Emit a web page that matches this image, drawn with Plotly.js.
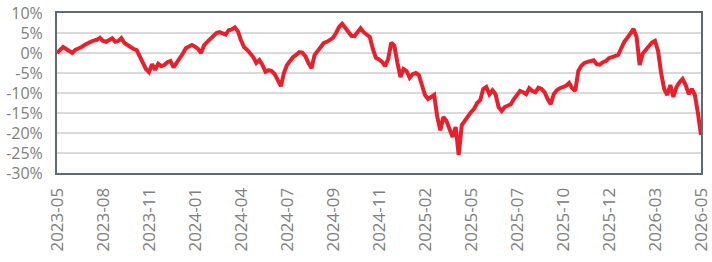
<!DOCTYPE html>
<html>
<head>
<meta charset="utf-8">
<script src="https://cdn.plot.ly/plotly-3.0.1.min.js"></script>
<style>html,body{margin:0;padding:0;background:#fff;}#chart{width:712px;height:262px;}</style>
</head>
<body>
<div id="chart"></div>
<script>
// Cumulative return (%) sampled along the period
const returnsPct = [
  0.0, 0.8, 1.5, 1.0, 0.6, 0.0, 0.8, 1.1, 1.5, 2.0,
  2.5, 2.8, 3.1, 3.3, 3.8, 3.0, 2.8, 3.3, 3.7, 2.8,
  3.0, 3.7, 2.5, 2.0, 1.4, 1.0, 0.7, -1.0, -2.5, -4.0,
  -4.8, -2.8, -4.2, -2.7, -3.3, -3.0, -2.3, -2.0, -3.6, -2.5,
  -1.5, -0.2, 1.2, 1.7, 2.0, 1.6, 1.0, 0.0, 2.0, 2.8,
  3.6, 4.3, 5.0, 5.2, 4.8, 4.6, 5.7, 5.9, 6.4, 5.4,
  3.2, 1.5, 0.8, 0.0, -1.0, -2.5, -1.8, -3.0, -4.7, -4.3,
  -4.5, -5.3, -7.0, -8.3, -5.0, -3.0, -2.0, -1.0, -0.5, 0.2,
  0.1, -0.8, -2.5, -3.8, -0.5, 0.6, 1.8, 2.5, 2.8, 3.3,
  3.8, 5.0, 6.5, 7.3, 6.4, 5.5, 4.3, 4.2, 5.3, 6.2,
  5.2, 4.7, 4.0, 1.0, -1.2, -1.6, -2.2, -3.3, -1.5, 2.6,
  1.8, -2.4, -6.0, -4.0, -4.5, -6.2, -5.3, -5.0, -5.5, -8.0,
  -10.5, -11.5, -11.0, -10.5, -16.0, -19.3, -16.0, -17.0, -19.0, -21.0,
  -18.5, -25.5, -18.0, -16.8, -15.8, -14.8, -14.0, -12.5, -11.8, -9.0,
  -8.5, -10.3, -9.3, -10.3, -13.5, -14.5, -13.5, -13.2, -12.8, -11.5,
  -10.5, -9.5, -9.8, -10.3, -8.8, -9.5, -9.8, -8.7, -9.0, -9.8,
  -11.5, -12.8, -10.3, -9.3, -8.8, -8.5, -8.2, -7.5, -8.8, -9.5,
  -4.5, -3.2, -2.5, -2.2, -2.0, -1.8, -2.8, -2.9, -2.3, -2.0,
  -1.3, -1.0, -0.8, -0.5, 1.2, 2.8, 3.8, 5.0, 6.0, 4.0,
  -3.0, -0.2, 0.8, 1.5, 2.6, 3.0, 0.5, -5.0, -9.0, -10.5,
  -8.0, -11.0, -8.5, -7.3, -6.5, -8.0, -10.3, -9.0, -10.5, -15.0,
  -20.5
];
// Axis labels (evenly spaced along the sampled series)
const tickLabels = ['2023-05','2023-08','2023-11','2024-01','2024-04','2024-07','2024-09','2024-11','2025-02','2025-05','2025-07','2025-10','2025-12','2026-03','2026-05'];
const yTicks = [10, 5, 0, -5, -10, -15, -20, -25, -30];

const n = returnsPct.length;
const xIdx = returnsPct.map((_, i) => i);
const step = (n - 1) / (tickLabels.length - 1);
const tickVals = tickLabels.map((_, i) => i * step);

const trace = {
  x: xIdx, y: returnsPct, type: 'scatter', mode: 'lines',
  line: {color: '#e8202c', width: 4, shape: 'linear'},
  hoverinfo: 'skip'
};

const layout = {
  width: 712, height: 262,
  margin: {l: 57, r: 11, t: 13, b: 89, pad: 0},
  paper_bgcolor: '#ffffff', plot_bgcolor: '#ffffff',
  showlegend: false,
  font: {family: 'Open Sans, sans-serif', color: '#808080'},
  xaxis: {
    range: [0, n - 1], tickmode: 'array', tickvals: tickVals, ticktext: tickLabels,
    tickangle: -90, showgrid: false, zeroline: false,
    showline: true, mirror: true, linecolor: '#5f6b70', linewidth: 2,
    ticks: 'outside', ticklen: 6, tickcolor: 'rgba(0,0,0,0)',
    ticklabeloverflow: 'allow',
    tickfont: {size: 17, color: '#808080', family: 'Open Sans, sans-serif'}
  },
  yaxis: {
    range: [-30, 10], tickmode: 'array', tickvals: yTicks,
    ticktext: yTicks.map(v => v + '%'),
    showgrid: true, gridcolor: '#d9d9d9', gridwidth: 2, zeroline: false,
    showline: true, mirror: true, linecolor: '#5f6b70', linewidth: 2,
    ticks: 'outside', ticklen: 9, tickcolor: 'rgba(0,0,0,0)',
    ticklabeloverflow: 'allow',
    tickfont: {size: 16, color: '#808080', family: 'Open Sans, sans-serif'}
  }
};

Plotly.newPlot('chart', [trace], layout, {staticPlot: true, displayModeBar: false});
</script>
</body>
</html>
